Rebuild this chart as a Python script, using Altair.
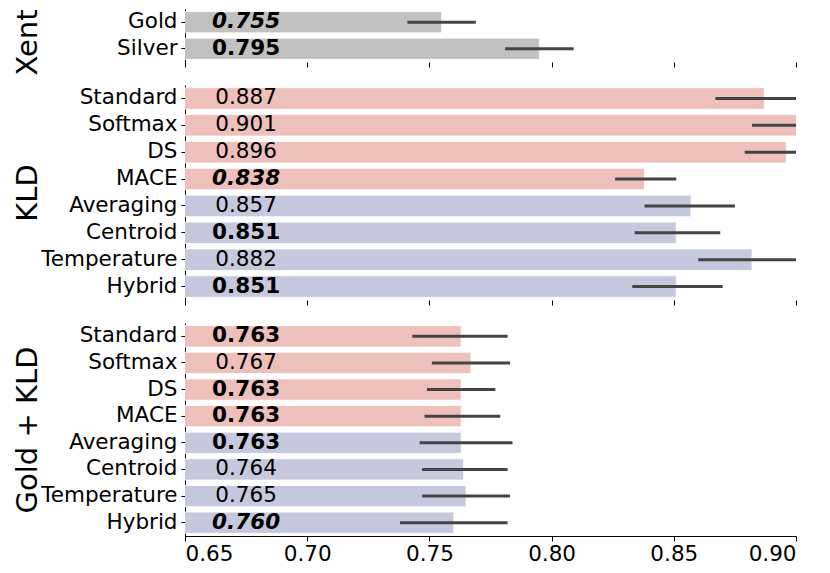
import altair as alt
import pandas as pd

# ---- data ----
xent_names = ["Gold", "Silver"]
xent_groups = ["x", "x"]
xent_vals = [0.755, 0.795]
xent_lo = [0.741, 0.781]
xent_hi = [0.769, 0.809]
xent_emph = ["bi", "b"]

methods = ["Standard", "Softmax", "DS", "MACE", "Averaging", "Centroid", "Temperature", "Hybrid"]
method_groups = ["a", "a", "a", "a", "b", "b", "b", "b"]

kld_vals = [0.887, 0.901, 0.896, 0.838, 0.857, 0.851, 0.882, 0.851]
kld_lo = [0.867, 0.882, 0.879, 0.826, 0.838, 0.834, 0.860, 0.833]
kld_hi = [0.907, 0.920, 0.913, 0.851, 0.875, 0.869, 0.904, 0.870]
kld_emph = ["", "", "", "bi", "", "b", "", "b"]

gk_vals = [0.763, 0.767, 0.763, 0.763, 0.763, 0.764, 0.765, 0.760]
gk_lo = [0.743, 0.751, 0.749, 0.748, 0.746, 0.747, 0.747, 0.738]
gk_hi = [0.782, 0.783, 0.777, 0.779, 0.784, 0.782, 0.783, 0.782]
gk_emph = ["b", "", "b", "b", "b", "", "", "bi"]

x_ticks = [0.65, 0.70, 0.75, 0.80, 0.85, 0.90]

FONT = "DejaVu Sans"
COLORS = alt.Scale(domain=["x", "a", "b"], range=["#c1c1c1", "#eec0bb", "#c6c9dd"])


def make_df(names, groups, vals, lo, hi, emph):
    return pd.DataFrame({"name": names, "grp": groups, "val": vals,
                         "lo": lo, "hi": hi, "emph": emph})


def panel(df, title, height, last, title_y=None):
    order = list(df["name"])
    yaxis_kw = dict(title=title, titleX=-149, titleAngle=270,
                    titleBaseline="alphabetic", titleFontSize=29,
                    titleFontWeight="normal", titleColor="black", titleFont=FONT,
                    labelFontSize=21.5, labelColor="black", labelFont=FONT,
                    labelPadding=4, tickSize=4, tickColor="black",
                    domainColor="black", grid=False)
    if title_y is not None:
        yaxis_kw["titleY"] = title_y
    y = alt.Y("name:N", sort=order,
              scale=alt.Scale(paddingInner=0.2, paddingOuter=0.1),
              axis=alt.Axis(**yaxis_kw))
    xaxis = alt.Axis(values=x_ticks, format=".2f", labels=last, domain=last,
                     ticks=True, tickSize=5, tickColor="black", domainColor="black",
                     grid=False, title=None, labelFontSize=21.5, labelColor="black",
                     labelFont=FONT, labelPadding=2)
    xscale = alt.Scale(domain=[0.65, 0.90], zero=False, nice=False)

    bars = alt.Chart(df).mark_bar(clip=True, stroke="white", strokeWidth=0.8).encode(
        x=alt.X("val:Q", scale=xscale, axis=xaxis),
        y=y,
        color=alt.Color("grp:N", scale=COLORS, legend=None),
    )
    err = alt.Chart(df).mark_rule(clip=True, strokeWidth=3, color="#444444").encode(
        x=alt.X("lo:Q", scale=xscale, axis=xaxis),
        x2="hi:Q",
        y=y,
    )
    layers = [bars, err]
    for code, weight, style in [("", "normal", "normal"), ("b", "bold", "normal"),
                                ("bi", "bold", "italic")]:
        t = alt.Chart(df).transform_filter(alt.datum.emph == code).mark_text(
            font=FONT, fontSize=21.5, fontWeight=weight, fontStyle=style,
            color="black", align="center", baseline="middle",
        ).encode(
            x=alt.XDatum(0.675, type="quantitative", scale=xscale, axis=xaxis),
            y=y,
            text=alt.Text("val:Q", format=".3f"),
        )
        layers.append(t)
    return alt.layer(*layers).properties(width=611, height=height)


p1 = panel(make_df(xent_names, xent_groups, xent_vals, xent_lo, xent_hi, xent_emph),
           "Xent", 53, False, title_y=33)
p2 = panel(make_df(methods, method_groups, kld_vals, kld_lo, kld_hi, kld_emph),
           "KLD", 215, False)
p3 = panel(make_df(methods, method_groups, gk_vals, gk_lo, gk_hi, gk_emph),
           "Gold + KLD", 213, True)

chart = alt.vconcat(p1, p2, p3, spacing=23, bounds="flush").properties(
    padding={"left": 5, "top": 0, "right": 10, "bottom": 5}
).configure(font=FONT).configure_view(strokeWidth=0, stroke="transparent")

chart.save("out.html", embed_options={"renderer": "svg", "actions": False})
